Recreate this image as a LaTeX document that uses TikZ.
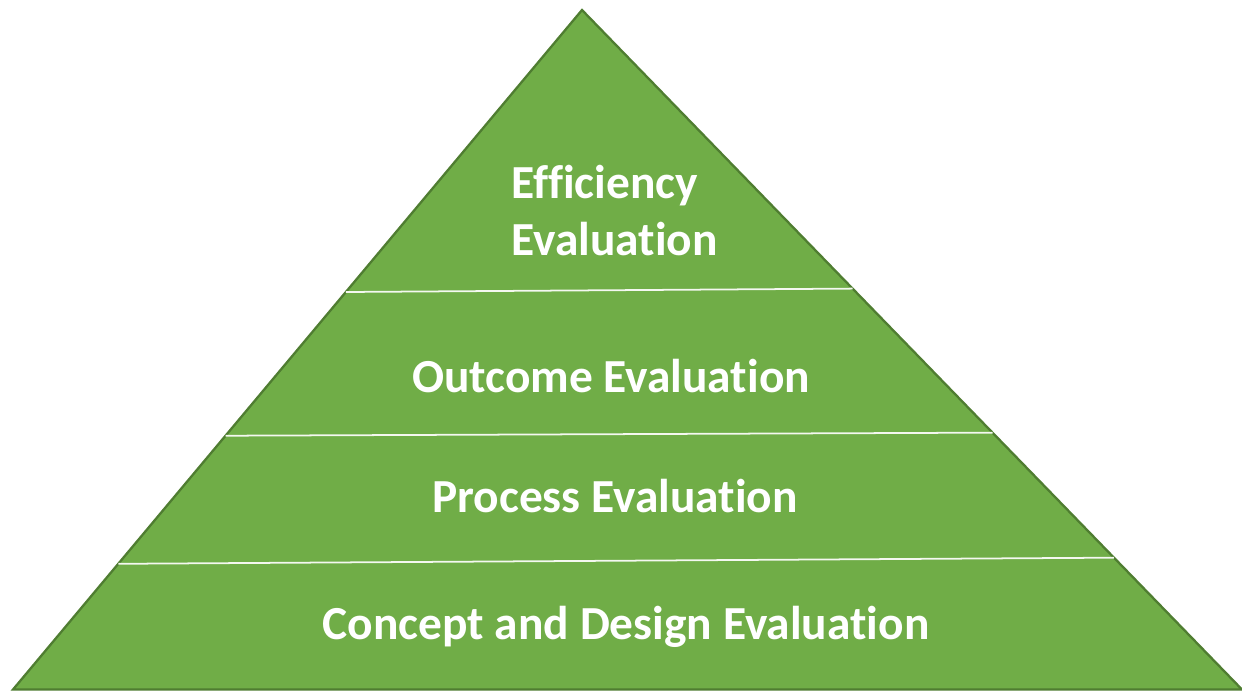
\documentclass[tikz,border=0pt]{standalone}
\usepackage{fontspec}
\setmainfont{Carlito}[Ligatures=NoCommon]
\usepackage{tikz}
\usetikzlibrary{calc}
\definecolor{layergreen}{HTML}{70AD47}
\definecolor{edgegreen}{HTML}{4F7D31}
\begin{document}
\begin{tikzpicture}[
    x=0.02cm, y=-0.02cm,
    layer/.style={fill=layergreen, draw=edgegreen, line width=1.3pt, line join=miter},
    divider/.style={draw=white!92!layergreen, line width=1pt},
    tier/.style={text=white, font=\fontsize{27}{32.3}\selectfont\bfseries, inner sep=0pt, anchor=base}
  ]
    \useasboundingbox (0,0) rectangle (1242,691);
    \coordinate (apex) at (582,10);
    \coordinate (bl) at (13,689.5);
    \coordinate (br) at (1242,689.5);
    \draw[layer] (bl) -- (apex) -- (br) -- cycle;
    % dividers between the tiers
    \draw[divider] ($(bl)!0.585!(apex)$) -- ($(br)!0.590!(apex)$);
    \draw[divider] ($(bl)!0.3735!(apex)$) -- ($(br)!0.378!(apex)$);
    \draw[divider] ($(bl)!0.185!(apex)$) -- ($(br)!0.194!(apex)$);
    % tier labels
    \node[tier, align=left, anchor=base west] (eff) at (511,255) {Efficiency\\Evaluation};
    \node[tier] (out) at (611,392) {Outcome Evaluation};
    \node[tier] (proc) at (615,512) {Process Evaluation};
    \node[tier] (con) at (626,639) {Concept and Design Evaluation};
  \end{tikzpicture}
\end{document}
